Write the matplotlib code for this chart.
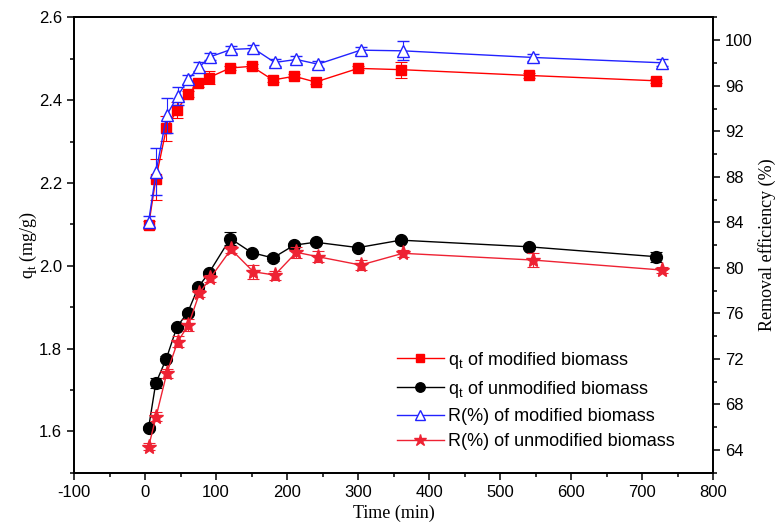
import numpy as np
import matplotlib.pyplot as plt
from matplotlib.ticker import MultipleLocator

# contact time (min) for adsorption capacity and removal efficiency series
time_q = [5, 15, 30, 45, 60, 75, 90, 120, 150, 180, 210, 240, 300, 360, 540, 720]
time_r = [5, 15.5, 30.5, 46, 61, 76.5, 91.5, 121, 152.5, 182.5, 213, 243.5, 303.5, 363, 546, 728]

# q_t (mg/g)
q_mod = [2.098, 2.209, 2.332, 2.376, 2.415, 2.441, 2.455, 2.478, 2.482, 2.449,
         2.458, 2.444, 2.477, 2.474, 2.460, 2.447]
q_mod_err = [0.01, 0.05, 0.031, 0.019, 0.008, 0.008, 0.015, 0.005, 0.005, 0.005,
             0.005, 0.005, 0.005, 0.019, 0.005, 0.005]
q_unmod = [1.609, 1.716, 1.776, 1.853, 1.887, 1.949, 1.983, 2.066, 2.032, 2.019,
           2.050, 2.057, 2.044, 2.062, 2.046, 2.022]
q_unmod_err = [0.005, 0.012, 0.005, 0.005, 0.005, 0.005, 0.005, 0.015, 0.005, 0.008,
               0.005, 0.005, 0.005, 0.005, 0.005, 0.012]

# removal efficiency (%)
r_mod = [84.05, 88.44, 93.42, 95.12, 96.58, 97.66, 98.54, 99.19, 99.28, 98.05,
         98.31, 97.9, 99.13, 99.07, 98.49, 98.02]
r_mod_err = [0.5, 2.05, 1.54, 0.8, 0.4, 0.4, 0.3, 0.3, 0.3, 0.3,
             0.3, 0.3, 0.3, 0.83, 0.3, 0.3]
r_unmod = [64.3, 66.93, 70.74, 73.52, 74.98, 77.77, 79.08, 81.63, 79.66, 79.37,
           81.37, 80.98, 80.25, 81.28, 80.69, 79.81]
r_unmod_err = [0.3, 0.4, 0.4, 0.5, 0.5, 0.3, 0.3, 0.3, 0.6, 0.4,
               0.5, 0.5, 0.4, 0.3, 0.6, 0.3]

sans = ['Liberation Sans', 'DejaVu Sans']
serif = ['Liberation Serif', 'DejaVu Serif']

plt.rcParams['font.family'] = sans
plt.rcParams['axes.unicode_minus'] = False
plt.rcParams['mathtext.fontset'] = 'custom'
plt.rcParams['mathtext.rm'] = 'Liberation Sans'
plt.rcParams['mathtext.it'] = 'Liberation Sans'

fig = plt.figure(figsize=(7.81, 5.30), dpi=100)
ax = fig.add_axes([0.0948, 0.108, 0.8185, 0.859])
ax2 = ax.twinx()

red = '#ff0000'
star_red = '#ee2233'
blue = '#2222ff'

eb = dict(lw=1.0, elinewidth=0.8, capsize=4, capthick=0.8)
h1 = ax.errorbar(time_q, q_mod, yerr=q_mod_err, color=red, marker='s', ms=7.5,
                 mfc=red, mec=red, ecolor=red, **eb)
h2 = ax.errorbar(time_q, q_unmod, yerr=q_unmod_err, color='black', marker='o', ms=8.5,
                 mfc='black', mec='black', ecolor='black', **eb)
h3 = ax2.errorbar(time_r, r_mod, yerr=r_mod_err, color=blue, marker='^', ms=8.5,
                  mfc='white', mec=blue, mew=1.0, ecolor=blue, **eb)
h4 = ax2.errorbar(time_r, r_unmod, yerr=r_unmod_err, color=star_red, marker='*', ms=11,
                  mfc=star_red, mec=star_red, ecolor=star_red, **eb)

ax.set_xlim(-100, 800)
ax.set_ylim(1.5, 2.6)
ax2.set_ylim(62, 102)

ax.xaxis.set_major_locator(MultipleLocator(100))
ax.xaxis.set_minor_locator(MultipleLocator(50))
ax.yaxis.set_major_locator(MultipleLocator(0.2))
ax.yaxis.set_minor_locator(MultipleLocator(0.1))
ax2.set_yticks(np.arange(64, 101, 4))
ax2.yaxis.set_minor_locator(MultipleLocator(2))

ax.yaxis.set_major_formatter(plt.FormatStrFormatter('%.1f'))

for a in (ax, ax2):
    for s in a.spines.values():
        s.set_linewidth(1.3)
    a.tick_params(which='major', length=5, width=1.1, labelsize=12, direction='out')
    a.tick_params(which='minor', length=3, width=1.1, direction='out')
ax.tick_params(top=False, right=False, which='both')

ax.set_xlabel('Time (min)', family=serif, fontsize=13, labelpad=4)
ax.set_ylabel('q$_\\mathregular{t}$ (mg/g)', family=serif, fontsize=13, labelpad=0)
ax2.set_ylabel('Removal efficiency (%)', family=serif, fontsize=13, labelpad=4)

# legend shows line and marker only, without error bars
leg = ax2.legend([h1[0], h2[0], h3[0], h4[0]],
                 ['q$_\\mathregular{t}$ of modified biomass',
                  'q$_\\mathregular{t}$ of unmodified biomass',
                  'R(%) of modified biomass',
                  'R(%) of unmodified biomass'],
                 loc='lower left', bbox_to_anchor=(0.492, 0.127),
                 bbox_transform=fig.transFigure, frameon=False, fontsize=13,
                 handlelength=2.6, handletextpad=0.25, labelspacing=0.45,
                 borderpad=0.2, markerscale=0.8)

fig.savefig('out.png', dpi=100)
